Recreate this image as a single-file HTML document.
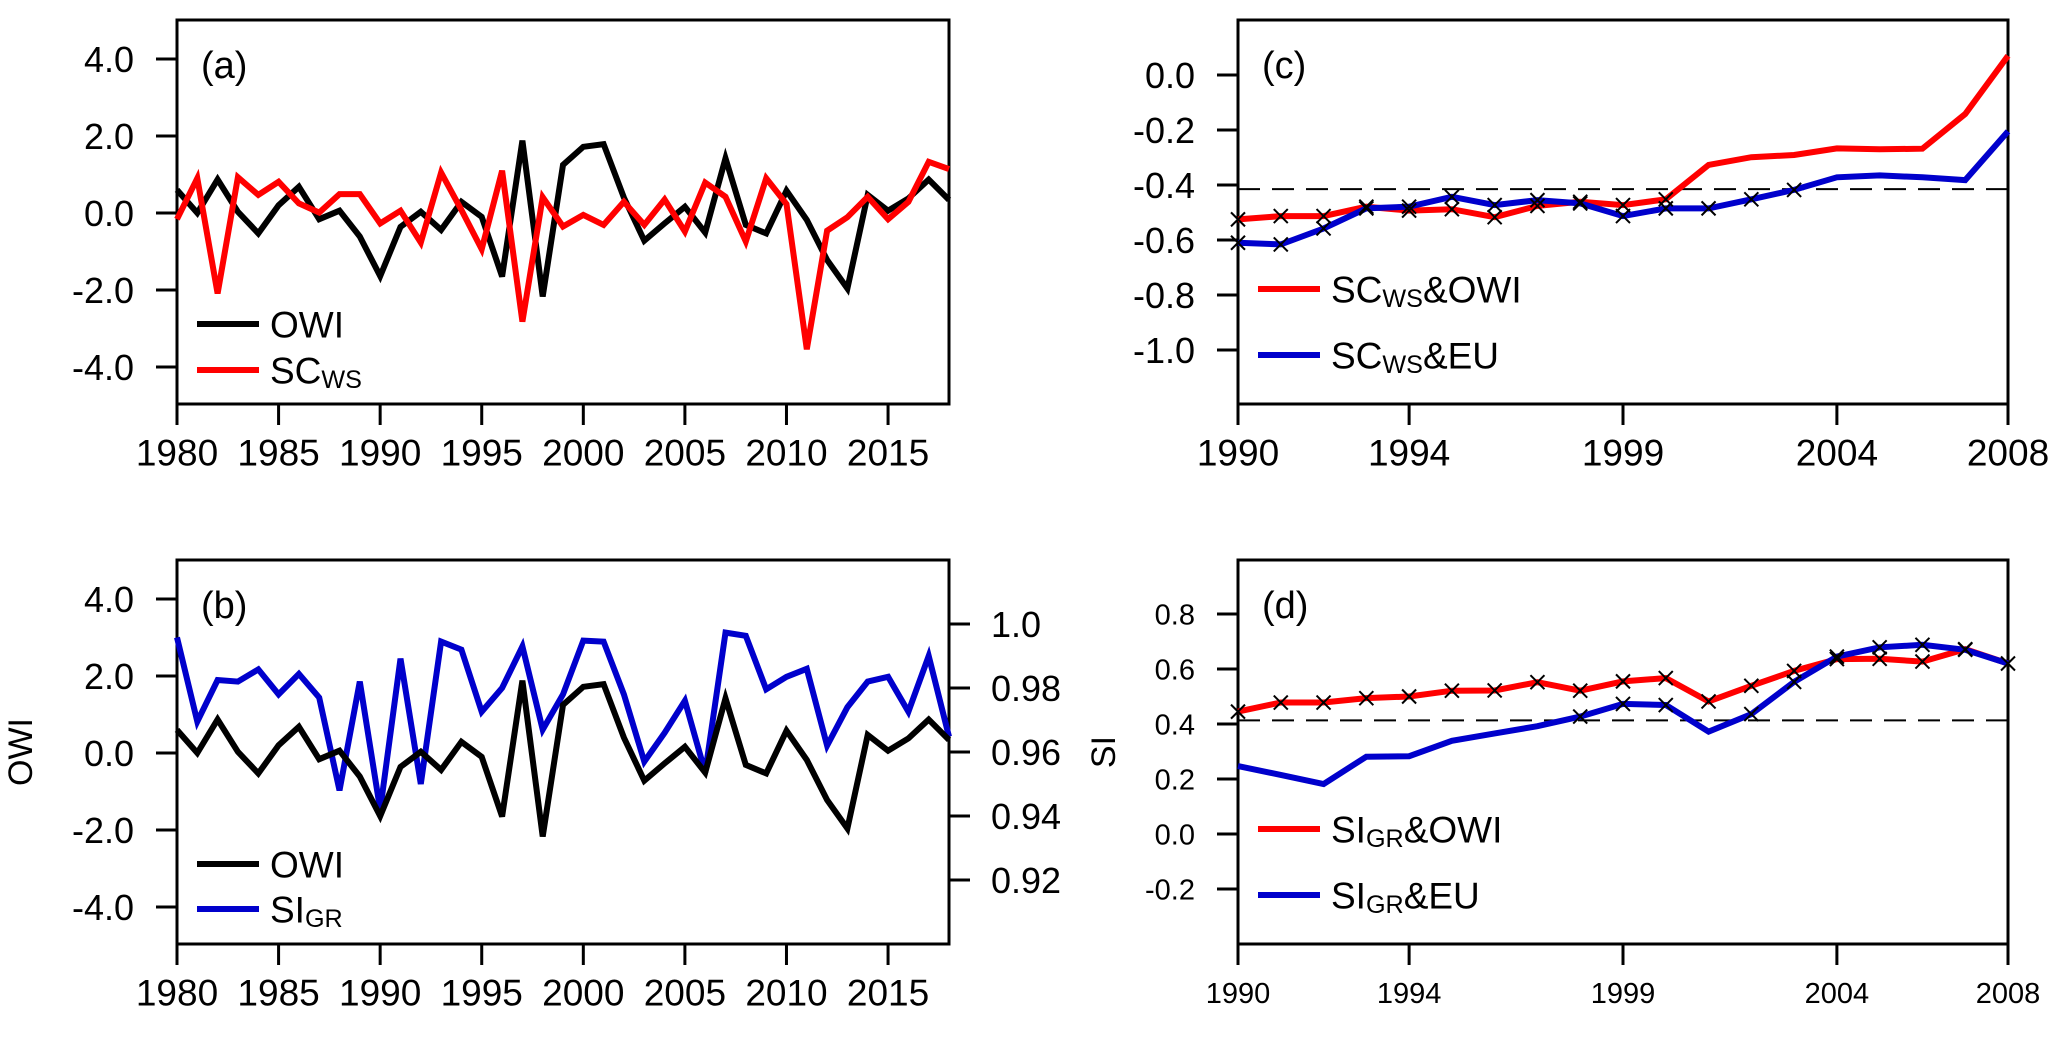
<!DOCTYPE html>
<html><head><meta charset="utf-8"><style>
html,body{margin:0;padding:0;background:#fff;}
svg{display:block;font-family:"Liberation Sans",Arial,sans-serif;}
</style></head><body>
<svg id="fig" width="2067" height="1037" viewBox="0 0 2067 1037" xmlns="http://www.w3.org/2000/svg"></svg>
<script>
const yearsA = [1980,1981,1982,1983,1984,1985,1986,1987,1988,1989,1990,1991,1992,1993,1994,1995,1996,1997,1998,1999,2000,2001,2002,2003,2004,2005,2006,2007,2008,2009,2010,2011,2012,2013,2014,2015,2016,2017,2018];
const owi = [0.6,0.0,0.87,0.03,-0.53,0.2,0.68,-0.16,0.06,-0.61,-1.64,-0.36,0.03,-0.44,0.29,-0.1,-1.65,1.88,-2.17,1.25,1.72,1.79,0.4,-0.72,-0.27,0.16,-0.51,1.42,-0.31,-0.53,0.58,-0.18,-1.22,-1.96,0.47,0.06,0.38,0.87,0.34];
const scws = [-0.16,0.9,-2.09,0.93,0.47,0.81,0.25,0.01,0.49,0.49,-0.27,0.06,-0.77,1.05,0.08,-0.94,1.1,-2.82,0.41,-0.35,-0.05,-0.31,0.29,-0.31,0.35,-0.48,0.79,0.42,-0.74,0.9,0.23,-3.54,-0.46,-0.11,0.42,-0.16,0.29,1.33,1.14];
const sigr = [0.9958,0.9695,0.9825,0.982,0.9858,0.978,0.9844,0.977,0.948,0.982,0.9419,0.9892,0.950,0.9945,0.992,0.9726,0.98,0.993,0.967,0.978,0.9948,0.9945,0.978,0.957,0.966,0.976,0.9536,0.9973,0.9963,0.9796,0.9835,0.986,0.962,0.974,0.982,0.9835,0.9726,0.990,0.9648];
const yearsC = [1990,1991,1992,1993,1994,1995,1996,1997,1998,1999,2000,2001,2002,2003,2004,2005,2006,2007,2008];
const cRed = [-0.525,-0.513,-0.513,-0.479,-0.493,-0.488,-0.517,-0.476,-0.461,-0.473,-0.452,-0.327,-0.299,-0.291,-0.267,-0.270,-0.268,-0.142,0.07];
const cBlue = [-0.61,-0.616,-0.558,-0.485,-0.479,-0.443,-0.473,-0.455,-0.467,-0.513,-0.485,-0.485,-0.452,-0.418,-0.372,-0.365,-0.372,-0.382,-0.205];
const cRedMark = [1,1,1,1,1,1,1,1,1,1,1,0,0,0,0,0,0,0,0];
const cBlueMark = [1,1,1,1,1,1,1,1,1,1,1,1,1,1,0,0,0,0,0];
const dRed = [0.445,0.478,0.478,0.494,0.5,0.521,0.522,0.552,0.521,0.555,0.567,0.482,0.539,0.593,0.636,0.637,0.627,0.672,0.62];
const dBlue = [0.247,0.215,0.182,0.281,0.283,0.339,0.366,0.392,0.427,0.473,0.469,0.372,0.436,0.553,0.645,0.679,0.688,0.67,0.62];
const dRedMark = [1,1,1,1,1,1,1,1,1,1,1,1,1,1,1,1,1,1,1];
const dBlueMark = [0,0,0,0,0,0,0,0,1,1,1,0,1,1,1,1,1,1,0];
const ticksA = [4,2,0,-2,-4];
const ticksARight = [1.0,0.98,0.96,0.94,0.92];
const ticksC = [0,-0.2,-0.4,-0.6,-0.8,-1.0];
const ticksD = [0.8,0.6,0.4,0.2,0.0,-0.2];
const xTicksA = [1980,1985,1990,1995,2000,2005,2010,2015];
const xTicksC = [1990,1994,1999,2004,2008];
const threshC = -0.415, threshD = 0.413;

const NS="http://www.w3.org/2000/svg";
const svg=document.getElementById('fig');
function el(tag,attrs,parent,text){const e=document.createElementNS(NS,tag);for(const k in attrs)e.setAttribute(k,attrs[k]);if(text!==undefined)e.textContent=text;(parent||svg).appendChild(e);return e;}

function panel(name,L,R,T,B,xmin,xmax,ymap){
  const g=el('g',{});
  
  
  return {g,L,R,T,B,x:v=>L+(v-xmin)/(xmax-xmin)*(R-L),y:ymap};
}
function box(p){const r=el('rect',{x:p.L,y:p.T,width:p.R-p.L,height:p.B-p.T,fill:'none',stroke:'#000','stroke-width':3},p.g);}
function yTicks(p,ticks,fmt,fs,side){
  ticks.forEach(t=>{const y=p.y(t);
    if(side==='right'){el('line',{x1:p.R,x2:p.R+21,y1:y,y2:y,stroke:'#000','stroke-width':3},p.g);
      const tx=el('text',{x:p.R+42,y:y+fs*0.36,'font-size':fs},p.g,fmt(t));}
    else{el('line',{x1:p.L-21,x2:p.L,y1:y,y2:y,stroke:'#000','stroke-width':3},p.g);
      const tx=el('text',{x:p.L-43,y:y+fs*0.36,'font-size':fs,'text-anchor':'end'},p.g,fmt(t));}
  });
}
function xTicks(p,ticks,fs){
  ticks.forEach(t=>{const x=p.x(t);el('line',{x1:x,x2:x,y1:p.B,y2:p.B+21,stroke:'#000','stroke-width':3},p.g);
    const tx=el('text',{x:x,y:p.B+61+(fs-36)*0.3,'font-size':fs,'text-anchor':'middle'},p.g,String(t));});
}
function series(p,xs,ys,color,name,ymapOverride){
  const ym=ymapOverride||p.y;
  const pts=xs.map((x,i)=>p.x(x).toFixed(1)+','+ym(ys[i]).toFixed(1)).join(' ');
  const l=el('polyline',{points:pts,fill:'none',stroke:color,'stroke-width':6,'stroke-linejoin':'miter','stroke-miterlimit':4},p.g);
  
  
}
function markers(p,xs,ys,flags,name){
  xs.forEach((x,i)=>{if(!flags[i])return;const cx=p.x(x),cy=p.y(ys[i]),s=7;
    const m=el('path',{d:`M${cx-s},${cy-s}L${cx+s},${cy+s}M${cx-s},${cy+s}L${cx+s},${cy-s}`,stroke:'#000','stroke-width':2,fill:'none'},p.g);
    
    });
}
function dashed(p,v){const y=p.y(v);const d=el('line',{x1:p.L,x2:p.R,y1:y,y2:y,stroke:'#000','stroke-width':2,'stroke-dasharray':'22,12'},p.g);}
function label(p,x,y,t,fs){const tx=el('text',{x:x,y:y,'font-size':fs},p.g,t);}
function legend(p,x,y,color,main,sub,rest,fs){
  const g=el('g',{},p.g);
  
  
  el('line',{x1:x,x2:x+62,y1:y,y2:y,stroke:color,'stroke-width':6},g);
  const t=el('text',{x:x+73,y:y+fs*0.36,'font-size':fs},g,main);
  if(sub){el('tspan',{'font-size':fs*0.68,dy:fs*0.12},t,sub);}
  if(rest){el('tspan',{dy:-fs*0.12},t,rest);}
}

// Panel (a)
const pa=panel('panel-a',177,949,20,404,1980,2018,v=>213-v*38.5);
box(pa);yTicks(pa,ticksA,v=>v.toFixed(1),36);xTicks(pa,xTicksA,37);
series(pa,yearsA,owi,'#000','owi-line-a');series(pa,yearsA,scws,'#ff0000','scws-line');
label(pa,201,78,'(a)',38);
legend(pa,197,324,'#000','OWI','','',37);legend(pa,197,370,'#ff0000','SC','WS','',37);

// Panel (b)
const pb=panel('panel-b',177,949,560,944,1980,2018,v=>753-v*38.5);
box(pb);yTicks(pb,ticksA,v=>v.toFixed(1),36);xTicks(pb,xTicksA,37);
const yr=v=>752-(v-0.96)*3200;
yTicks({...pb,y:yr},ticksARight,v=>v===1?'1.0':v.toFixed(2),36,'right');
series(pb,yearsA,sigr,'#0000cc','sigr-line',yr);
series(pb,yearsA,owi,'#000','owi-line-b');
label(pb,201,618,'(b)',38);
legend(pb,197,864,'#000','OWI','','',37);legend(pb,197,909,'#0000cc','SI','GR','',37);
const at=el('text',{x:0,y:0,'font-size':34,'text-anchor':'middle',transform:'translate(32,752) rotate(-90)'},svg,'OWI');


// Panel (c)
const pc=panel('panel-c',1238,2008,20,404,1990,2008,v=>75-v*275);
box(pc);yTicks(pc,ticksC,v=>v.toFixed(1),36);xTicks(pc,xTicksC,37);
dashed(pc,threshC);
series(pc,yearsC,cRed,'#ff0000','scws-owi-line');series(pc,yearsC,cBlue,'#0000cc','scws-eu-line');
markers(pc,yearsC,cRed,cRedMark,'scws-owi-marker');markers(pc,yearsC,cBlue,cBlueMark,'scws-eu-marker');
label(pc,1262,78,'(c)',38);
legend(pc,1258,289,'#ff0000','SC','WS','&OWI',37);legend(pc,1258,355,'#0000cc','SC','WS','&EU',37);

// Panel (d)
const pd=panel('panel-d',1238,2008,560,944,1990,2008,v=>834-v*275);
box(pd);yTicks(pd,ticksD,v=>v.toFixed(1),29);xTicks(pd,xTicksC,29);
dashed(pd,threshD);
series(pd,yearsC,dRed,'#ff0000','sigr-owi-line');series(pd,yearsC,dBlue,'#0000cc','sigr-eu-line');
markers(pd,yearsC,dRed,dRedMark,'sigr-owi-marker');markers(pd,yearsC,dBlue,dBlueMark,'sigr-eu-marker');
label(pd,1262,618,'(d)',38);
legend(pd,1258,829,'#ff0000','SI','GR','&OWI',37);legend(pd,1258,895,'#0000cc','SI','GR','&EU',37);
const st=el('text',{x:0,y:0,'font-size':34,'text-anchor':'middle',transform:'translate(1115,752) rotate(-90)'},svg,'SI');

</script>
</body></html>
